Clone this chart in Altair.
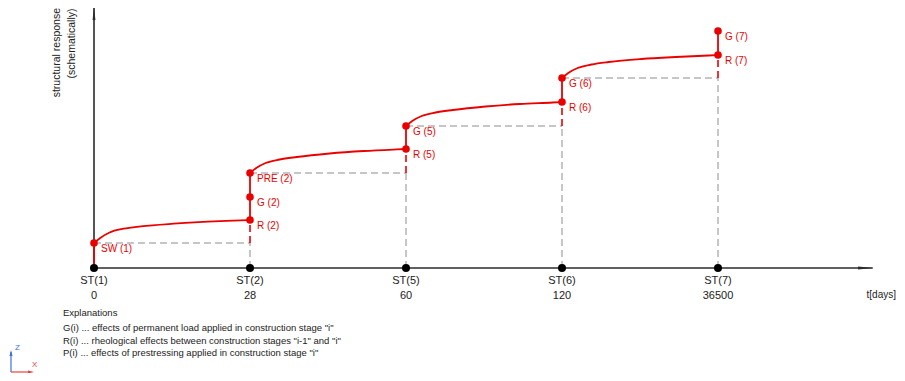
import altair as alt
import pandas as pd

# ---------------- data ----------------
stage_pos = [0, 1, 2, 3, 4]
stage_names = ["ST(1)", "ST(2)", "ST(5)", "ST(6)", "ST(7)"]
stage_days = ["0", "28", "60", "120", "36500"]

# labelled red points (schematic response units)
pt_x = [0, 1, 1, 1, 2, 2, 3, 3, 4, 4]
pt_y = [25, 48, 71, 95, 119, 142, 166, 190, 213, 237]
pt_label = ["SW (1)", "R (2)", "G (2)", "PRE (2)", "R (5)", "G (5)",
            "R (6)", "G (6)", "R (7)", "G (7)"]

# rheological (creep) curves between stages
c1_x = [0, 0.04, 0.10, 0.19, 0.30, 0.51, 0.73, 0.94, 1.0]
c1_y = [25, 30, 35.5, 39.3, 41.6, 44.3, 46.3, 47.6, 48]
c2_x = [1, 1.04, 1.10, 1.19, 1.30, 1.51, 1.73, 1.94, 2.0]
c2_y = [95, 100, 105, 108.5, 111, 114.5, 117, 118.6, 119]
c3_x = [2, 2.04, 2.10, 2.19, 2.30, 2.51, 2.73, 2.94, 3.0]
c3_y = [142, 147, 152, 155.5, 158, 161.5, 164, 165.5, 166]
c4_x = [3, 3.04, 3.10, 3.19, 3.30, 3.51, 3.73, 3.94, 4.0]
c4_y = [190, 195, 200, 203.5, 206, 209, 211, 212.5, 213]

# solid red jumps (loads / prestress applied at a stage)
jump_x = [0, 1, 2, 3, 4]
jump_y0 = [0, 48, 119, 166, 213]
jump_y1 = [25, 95, 142, 190, 237]

# levels reached at end of each stage (reference levels, dashed)
lvl_x0 = [0, 1, 2, 3]
lvl_x1 = [1, 2, 3, 4]
lvl_y = [25, 95, 142, 190]
creep_top = [48, 119, 166, 213]

axis_x_end = 4.992
axis_y_end = 261

y_title = ["structural response", "(schematically)"]
expl = ["Explanations",
        'G(i) ... effects of permanent load applied in construction stage "i"',
        'R(i) ... rheological effects between construction stages "i-1" and "i"',
        'P(i) ... effects of prestressing applied in construction stage "i"']

# ---------------- styling ----------------
RED = "#eb0000"
GREY = "#b4b4b4"
AX = "#2b2b2b"
FONT = "Liberation Sans"

xs = alt.Scale(domain=[-0.5513, 5.1474], nice=False, zero=False)
ys = alt.Scale(domain=[-105, 260], nice=False, zero=False)

def X(f):
    return alt.X(f, type="quantitative", scale=xs, axis=None)

def Y(f):
    return alt.Y(f, type="quantitative", scale=ys, axis=None)

curves = pd.DataFrame({
    "x": c1_x + c2_x + c3_x + c4_x,
    "y": c1_y + c2_y + c3_y + c4_y,
    "c": [1] * len(c1_x) + [2] * len(c2_x) + [3] * len(c3_x) + [4] * len(c4_x),
})
pts = pd.DataFrame({"x": pt_x, "y": pt_y, "label": pt_label})
stages = pd.DataFrame({"x": stage_pos, "name": stage_names, "days": stage_days, "y": [0] * 5})
jumps = pd.DataFrame({"x": jump_x, "y": jump_y0, "y2": jump_y1})
lv = pd.DataFrame({"x": lvl_x0, "x2": lvl_x1, "y": lvl_y, "top": creep_top, "zero": [0] * 4})

grey_h = alt.Chart(lv).mark_rule(color=GREY, strokeWidth=1.5, strokeDash=[7, 4]).encode(
    x=X("x"), x2="x2", y=Y("y"))
grey_v = alt.Chart(lv).mark_rule(color=GREY, strokeWidth=1.5, strokeDash=[7, 4]).encode(
    x=X("x2"), y=Y("zero"), y2="y")
red_v_dash = alt.Chart(lv).mark_rule(color=RED, strokeWidth=1.6, strokeDash=[7, 4]).encode(
    x=X("x2"), y=Y("y"), y2="top")

ax_df = pd.DataFrame({"x0": [0, 0], "x1": [axis_x_end, 0], "y0": [0, 0], "y1": [0, axis_y_end]})
axes = alt.Chart(ax_df).mark_rule(color=AX, strokeWidth=1.6).encode(
    x=X("x0"), x2="x1", y=Y("y0"), y2="y1")
arrow_y = alt.Chart(pd.DataFrame({"x": [0], "y": [axis_y_end - 6.5]})).mark_point(
    shape="M0,-1L0.22,1L-0.22,1Z", size=169, filled=True, color=AX, opacity=1).encode(
    x=X("x"), y=Y("y"))
arrow_x = alt.Chart(pd.DataFrame({"x": [axis_x_end - 0.047], "y": [0]})).mark_point(
    shape="M1,0L-1,-0.19L-1,0.19Z", size=216, filled=True, color=AX, opacity=1).encode(
    x=X("x"), y=Y("y"))

red_jump = alt.Chart(jumps).mark_rule(color=RED, strokeWidth=1.8).encode(
    x=X("x"), y=Y("y"), y2="y2")
red_curves = alt.Chart(curves).mark_line(color=RED, strokeWidth=1.8, interpolate="monotone").encode(
    x=X("x"), y=Y("y"), detail="c:N")

stage_dots = alt.Chart(stages).mark_circle(color="#000000", size=64, opacity=1).encode(
    x=X("x"), y=Y("y"))
red_dots = alt.Chart(pts).mark_circle(color=RED, size=58, opacity=1).encode(
    x=X("x"), y=Y("y"))
red_labels = alt.Chart(pts).mark_text(
    color=RED, fontSize=10, font=FONT, align="left", baseline="middle", dx=7, dy=6).encode(
    x=X("x"), y=Y("y"), text="label:N")

stage_lbl = alt.Chart(stages).mark_text(
    color="#222222", fontSize=11, font=FONT, align="center", baseline="middle").encode(
    x=X("x"), y=alt.value(273), text="name:N")
days_lbl = alt.Chart(stages).mark_text(
    color="#222222", fontSize=11, font=FONT, align="center", baseline="middle").encode(
    x=X("x"), y=alt.value(287.5), text="days:N")
tdays = alt.Chart(pd.DataFrame({"t": ["t[days]"]})).mark_text(
    color="#222222", fontSize=10, font=FONT, align="right", baseline="middle").encode(
    x=alt.value(888), y=alt.value(287), text="t:N")

yt1 = alt.Chart(pd.DataFrame({"t": [y_title[0]]})).mark_text(
    color="#222222", fontSize=10.5, font=FONT, angle=270, align="right", baseline="middle").encode(
    x=alt.value(49), y=alt.value(0), text="t:N")
yt2 = alt.Chart(pd.DataFrame({"t": [y_title[1]]})).mark_text(
    color="#222222", fontSize=10.5, font=FONT, angle=270, align="right", baseline="middle").encode(
    x=alt.value(64), y=alt.value(0.5), text="t:N")

expl_df = pd.DataFrame({"t": expl, "yy": [305, 319.5, 332.5, 345.3]})
expl_txt = alt.Chart(expl_df).mark_text(
    color="#222222", fontSize=9.5, font=FONT, align="left", baseline="middle").encode(
    x=alt.value(55), y=alt.Y("yy:Q", scale=None, axis=None), text="t:N")

# coordinate icon (bottom left)
BLUE = "#3d6fe0"
ICON_RED = "#e8413c"
icon_v = alt.Chart(pd.DataFrame({"a": [0]})).mark_rule(color=BLUE, strokeWidth=1.2).encode(
    x=alt.value(3), y=alt.value(344), y2=alt.value(364))
icon_h = alt.Chart(pd.DataFrame({"a": [0]})).mark_rule(color=ICON_RED, strokeWidth=1.2).encode(
    x=alt.value(3), x2=alt.value(22), y=alt.value(364))
icon_av = alt.Chart(pd.DataFrame({"a": [0]})).mark_point(
    shape="M0,-1L0.5,1L-0.5,1Z", size=36, filled=True, color=BLUE, opacity=1).encode(
    x=alt.value(3), y=alt.value(345))
icon_ah = alt.Chart(pd.DataFrame({"a": [0]})).mark_point(
    shape="M1,0L-1,-0.5L-1,0.5Z", size=36, filled=True, color=ICON_RED, opacity=1).encode(
    x=alt.value(23), y=alt.value(364))
icon_z = alt.Chart(pd.DataFrame({"t": ["Z"]})).mark_text(
    color=BLUE, fontSize=8, font=FONT, align="left", baseline="middle").encode(
    x=alt.value(7), y=alt.value(340), text="t:N")
icon_x = alt.Chart(pd.DataFrame({"t": ["X"]})).mark_text(
    color=ICON_RED, fontSize=8, font=FONT, align="left", baseline="middle").encode(
    x=alt.value(24), y=alt.value(357), text="t:N")

chart = alt.layer(
    grey_h, grey_v, axes, arrow_y, arrow_x, red_v_dash, red_jump, red_curves,
    stage_dots, red_dots, red_labels, stage_lbl, days_lbl, tdays, yt1, yt2, expl_txt,
    icon_v, icon_h, icon_av, icon_ah, icon_z, icon_x
).properties(
    width=889, height=365, autosize="none", padding=0
).configure_view(stroke=None)

chart.save("out.html", embed_options={"renderer": "svg", "actions": False})
